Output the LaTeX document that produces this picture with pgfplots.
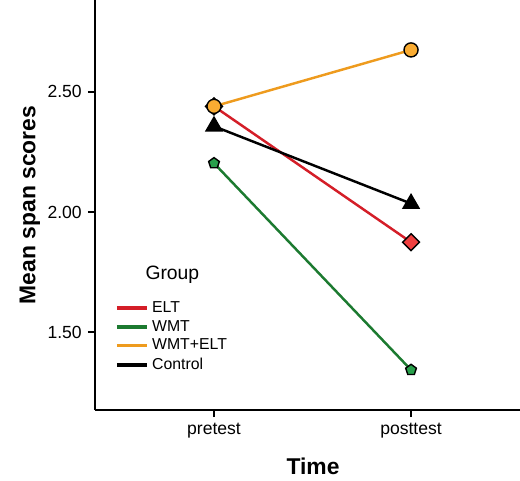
\documentclass[border=0pt]{standalone}
\usepackage{pgfplots}
\pgfplotsset{compat=1.18}
\usepackage{fontspec}
\setmainfont{Liberation Sans}
\definecolor{eltred}{RGB}{212,30,40}
\definecolor{eltfill}{RGB}{240,64,64}
\definecolor{wmtgreen}{RGB}{28,122,48}
\definecolor{wmtfill}{RGB}{40,160,75}
\definecolor{bothorange}{RGB}{238,155,30}
\definecolor{bothfill}{RGB}{250,172,50}
\begin{document}
\begin{tikzpicture}
\begin{axis}[
    name=ax,
    scale only axis,
    width=8.5cm, height=8.2cm,
    xmin=-0.604, xmax=1.553,
    ymin=1.175, ymax=2.883,
    axis lines=left,
    axis line style={-, line width=1.1pt},
    tick align=outside,
    major tick length=4pt,
    tick style={line width=1pt, black},
    xtick={0,1}, xticklabels={pretest,posttest},
    ytick={1.5,2,2.5},
    /pgf/number format/assume math mode=true,
    yticklabel style={/pgf/number format/fixed, /pgf/number format/fixed zerofill, /pgf/number format/precision=2},
    tick label style={font=\fontsize{10}{12}\selectfont},
    xlabel={Time}, ylabel={Mean span scores},
    label style={font=\fontsize{13}{15}\selectfont\bfseries},
    xlabel style={at={(axis description cs:0.513,-0.138)}, anchor=center},
    ylabel style={at={(axis description cs:-0.153,0.5)}, anchor=center},
    clip=false,
    legend style={at={(axis description cs:0.034,0.283)}, anchor=north west,
      draw=none, fill=none, font=\fontsize{9}{11}\selectfont, row sep=-1pt},
    legend cell align=left,
    legend image code/.code={\draw[line width=2pt,#1] (0cm,0cm) -- (0.6cm,0cm);},
]
\addplot[eltred, line width=1.4pt, mark=square*, mark size=3.4pt,
  mark options={rotate=45, fill=eltfill, draw=black, line width=0.8pt}]
  coordinates {(0,2.44) (1,1.874)};
\addlegendentry{ELT}

\addplot[wmtgreen, line width=1.4pt, mark=pentagon*, mark size=3.2pt,
  mark options={fill=wmtfill, draw=black, line width=0.8pt}]
  coordinates {(0,2.203) (1,1.342)};
\addlegendentry{WMT}

\addplot[bothorange, line width=1.4pt, mark=*, mark size=4pt,
  mark options={fill=bothfill, draw=black, line width=0.8pt}]
  coordinates {(0,2.44) (1,2.675)};
\addlegendentry{WMT+ELT}

\addplot[black, line width=1.4pt, mark=triangle*, mark size=4.6pt,
  mark options={fill=black, draw=black}]
  coordinates {(0,2.357) (1,2.035)};
\addlegendentry{Control}

% legend title
\node[anchor=west, font=\fontsize{11}{13}\selectfont, inner sep=0pt]
  at (axis description cs:0.118,0.329) {Group};
\end{axis}
\pgfresetboundingbox
\path[use as bounding box] (ax.south west) ++(-1.9cm,-1.4cm) rectangle (ax.north east);
\end{tikzpicture}
\end{document}
